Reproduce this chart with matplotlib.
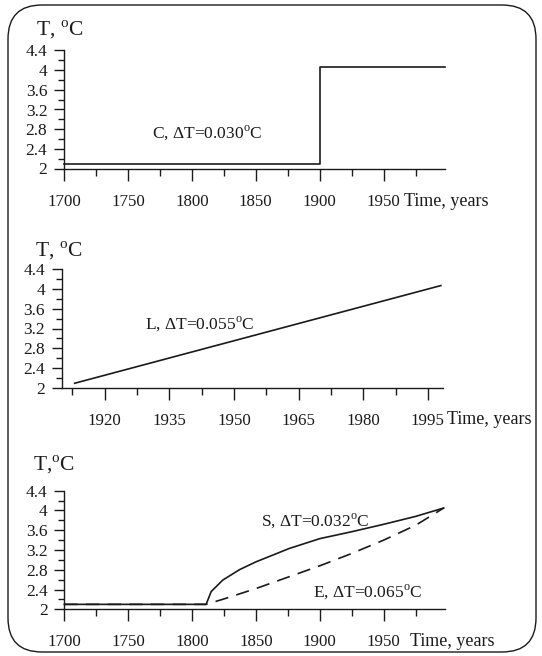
import matplotlib
matplotlib.use("Agg")
import matplotlib.pyplot as plt
from matplotlib.patches import FancyBboxPatch
from matplotlib.ticker import FixedLocator, FuncFormatter

plt.rcParams['font.family'] = ['Liberation Serif', 'DejaVu Serif']
plt.rcParams['mathtext.fontset'] = 'custom'
plt.rcParams['mathtext.rm'] = 'Liberation Serif'
plt.rcParams['font.size'] = 12

# data
years_c = [1700, 1900, 1900, 1998]
temp_c = [2.1, 2.1, 4.06, 4.06]

years_l = [1913, 1998]
temp_l = [2.09, 4.07]

years_s = [1700, 1811, 1815, 1824, 1837, 1850, 1876, 1900, 1925, 1950, 1975, 1997]
temp_s = [2.1, 2.1, 2.36, 2.59, 2.80, 2.96, 3.23, 3.43, 3.57, 3.72, 3.88, 4.05]

years_e = [1700, 1811, 1825, 1850, 1875, 1900, 1925, 1950, 1975, 1997]
temp_e = [2.1, 2.1, 2.21, 2.42, 2.65, 2.88, 3.13, 3.40, 3.70, 4.05]

y_ticks = [2, 2.4, 2.8, 3.2, 3.6, 4, 4.4]
y_minor = [2.2, 2.6, 3.0, 3.4, 3.8, 4.2]

W, H = 542, 656
ink = '#1a1a1a'

fig = plt.figure(figsize=(W / 100, H / 100), dpi=100)


def px_axes(left, right, top, bottom):
    return fig.add_axes([left / W, 1 - bottom / H, (right - left) / W, (bottom - top) / H])


def style(ax, xlim, major, minor):
    ax.set_xlim(*xlim)
    ax.set_ylim(2, 4.4)
    for s in ['top', 'right']:
        ax.spines[s].set_visible(False)
    for s in ['left', 'bottom']:
        ax.spines[s].set_linewidth(1.0)
        ax.spines[s].set_color(ink)
    ax.xaxis.set_major_locator(FixedLocator(major))
    ax.xaxis.set_minor_locator(FixedLocator(minor))
    ax.yaxis.set_major_locator(FixedLocator(y_ticks))
    ax.yaxis.set_minor_locator(FixedLocator(y_minor))
    ax.yaxis.set_major_formatter(FuncFormatter(lambda v, p: '%g' % v))
    ax.xaxis.set_major_formatter(FuncFormatter(lambda v, p: '%d' % v))
    ax.tick_params(axis='x', which='major', direction='out', length=8.6, width=1.0,
                   pad=9.5, colors=ink, labelsize=12.2)
    ax.tick_params(axis='x', which='minor', direction='out', length=5, width=1.0, colors=ink)
    ax.tick_params(axis='y', which='major', direction='out', length=7.5, width=1.0,
                   pad=4.5, colors=ink, labelsize=12.5)
    ax.tick_params(axis='y', which='minor', direction='out', length=4.3, width=1.0, colors=ink)


def ftext(x, y, s, size=12.5, **kw):
    fig.text(x / W, 1 - y / H, s, color=ink, fontsize=size, va='center', **kw)


# panel C
ax1 = px_axes(64, 445, 50.5, 168.5)
style(ax1, (1700, 1998), [1700, 1750, 1800, 1850, 1900, 1950],
      [1725, 1775, 1825, 1875, 1925, 1975])
ax1.plot(years_c, temp_c, color=ink, lw=1.2, clip_on=False)
ftext(36, 30, r'T, $^{\rm o}$C', size=15.5)
ftext(152, 133, r'C, ΔT=0.030$^{\rm o}$C', size=12.5)
ftext(404, 201, 'Time, years', size=13)

# panel L
ax2 = px_axes(61.7, 443, 269.3, 387.7)
style(ax2, (1910, 1998.5), [1920, 1935, 1950, 1965, 1980, 1995],
      [1912.5, 1927.5, 1942.5, 1957.5, 1972.5, 1987.5])
ax2.plot(years_l, temp_l, color=ink, lw=1.2, clip_on=False)
ftext(35, 251, r'T, $^{\rm o}$C', size=15.5)
ftext(145, 324, r'L, ΔT=0.055$^{\rm o}$C', size=12.5)
ftext(447, 420, 'Time, years', size=13)

# panel S / E
ax3 = px_axes(64.3, 445, 490.7, 609.3)
style(ax3, (1700, 1998), [1700, 1750, 1800, 1850, 1900, 1950],
      [1725, 1775, 1825, 1875, 1925, 1975])
ax3.plot(years_s, temp_s, color=ink, lw=1.2, clip_on=False)
ax3.plot(years_e, temp_e, color=ink, lw=1.2, dashes=(8, 5), clip_on=False)
ftext(33, 465, r'T,$^{\rm o}$C', size=15.5)
ftext(261, 521, r'S, ΔT=0.032$^{\rm o}$C', size=12.5)
ftext(313, 592, r'E, ΔT=0.065$^{\rm o}$C', size=12.5)
ftext(410, 641, 'Time, years', size=13)

# rounded frame around the whole figure
frame = FancyBboxPatch((0.08, 0.04), 5.28, 6.47,
                       boxstyle='round,pad=0,rounding_size=0.34',
                       transform=fig.dpi_scale_trans, fill=False,
                       edgecolor=ink, lw=1.0)
fig.patches.append(frame)

fig.savefig('out.png', dpi=100)
